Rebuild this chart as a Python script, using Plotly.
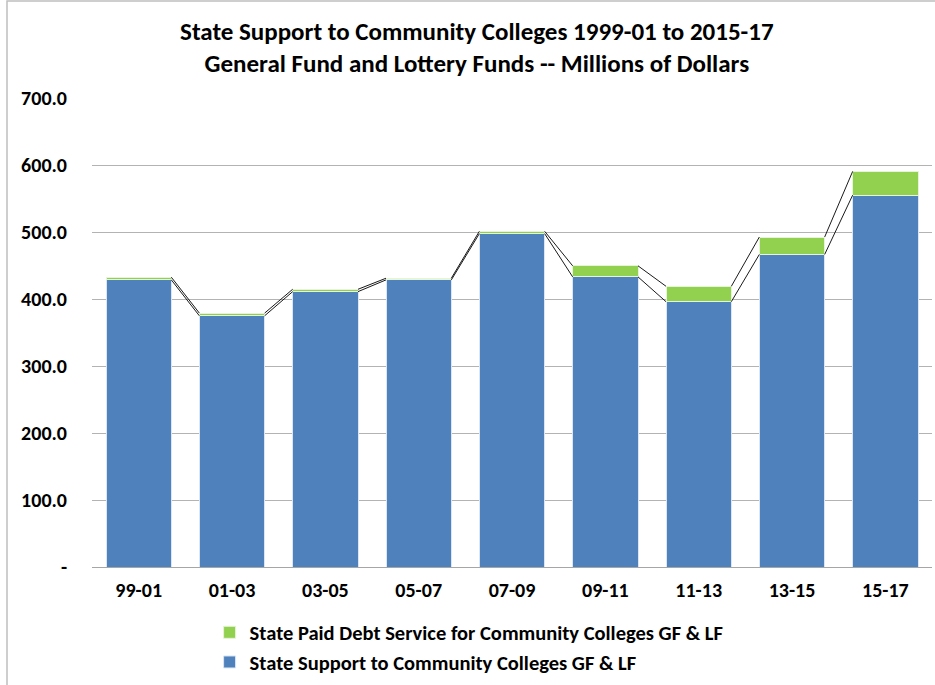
import plotly.graph_objects as go

categories = ["99-01", "01-03", "03-05", "05-07", "07-09", "09-11", "11-13", "13-15", "15-17"]
state_support = [428.5, 375.0, 411.0, 428.5, 497.5, 433.0, 396.0, 466.5, 555.0]
debt_service = [4.0, 4.0, 3.5, 2.5, 3.5, 16.5, 23.0, 26.0, 35.5]
y_ticks = [0, 100, 200, 300, 400, 500, 600, 700]
y_tick_labels = ["-", "100.0", "200.0", "300.0", "400.0", "500.0", "600.0", "700.0"]

BLUE = "#4f81bd"
GREEN = "#92d050"
FONT = "Carlito, Lato, sans-serif"
BAR_W = 0.7

xs = list(range(len(categories)))
totals = [a + b for a, b in zip(state_support, debt_service)]

fig = go.Figure()
fig.add_trace(go.Bar(
    x=xs, y=state_support, width=BAR_W, name="<b>State Support to Community Colleges GF & LF</b>",
    marker=dict(color=BLUE, line=dict(color="#dce6f2", width=1)), legendgroup="b", legendrank=2,
))
fig.add_trace(go.Bar(
    x=xs, y=debt_service, width=BAR_W, name="<b>State Paid Debt Service for Community Colleges GF & LF</b>",
    marker=dict(color=GREEN, line=dict(color="#e6f4d7", width=1)), legendgroup="a", legendrank=1,
))

# series lines connecting segment tops
for series in (state_support, totals):
    lx, ly = [], []
    for i in range(len(series) - 1):
        lx += [xs[i] + BAR_W / 2, xs[i + 1] - BAR_W / 2, None]
        ly += [series[i], series[i + 1], None]
    fig.add_trace(go.Scatter(x=lx, y=ly, mode="lines", line=dict(color="#1a1a1a", width=1),
                             showlegend=False, hoverinfo="skip"))

fig.update_layout(
    width=935, height=685,
    barmode="stack",
    plot_bgcolor="white", paper_bgcolor="white",
    margin=dict(l=92, r=3, t=98, b=118, autoexpand=False),
    font=dict(family=FONT, size=20, color="#000000"),
    title=dict(
        text="<b>State Support to Community Colleges 1999-01 to 2015-17<br>General Fund and Lottery Funds -- Millions of Dollars</b>",
        x=0.51, xanchor="center", y=0.942, yanchor="top",
        font=dict(family=FONT, size=25, color="#000000"),
    ),
    xaxis=dict(
        range=[-0.5, len(categories) - 0.5],
        tickmode="array", tickvals=xs, ticktext=["<b>%s</b>" % c for c in categories],
        showgrid=False, zeroline=False, showline=True, linecolor="#a6a6a6", linewidth=1,
        ticks="", ticklabelstandoff=5,
        tickfont=dict(family=FONT, size=20, color="#000000"),
    ),
    yaxis=dict(
        range=[0, 700],
        tickmode="array", tickvals=y_ticks, ticktext=["<b>%s</b>" % t for t in y_tick_labels],
        showgrid=True, gridcolor="#b3b3b3", gridwidth=1, zeroline=False, showline=False,
        ticks="", ticklabelstandoff=24,
        tickfont=dict(family=FONT, size=20, color="#000000"),
    ),
    legend=dict(
        orientation="v", x=0.140, xanchor="left", y=-0.097, yanchor="top",
        traceorder="grouped", tracegroupgap=0,
        font=dict(family=FONT, size=20.5, color="#000000"),
        bgcolor="rgba(0,0,0,0)",
    ),
    shapes=[dict(type="rect", xref="paper", yref="paper",
                 x0=(7 - 92) / 840, x1=1.02, y0=-0.5, y1=(567 - 1) / 469,
                 line=dict(color="#bfbfbf", width=1.5), layer="below")],
)

fig.write_html("out.html")
